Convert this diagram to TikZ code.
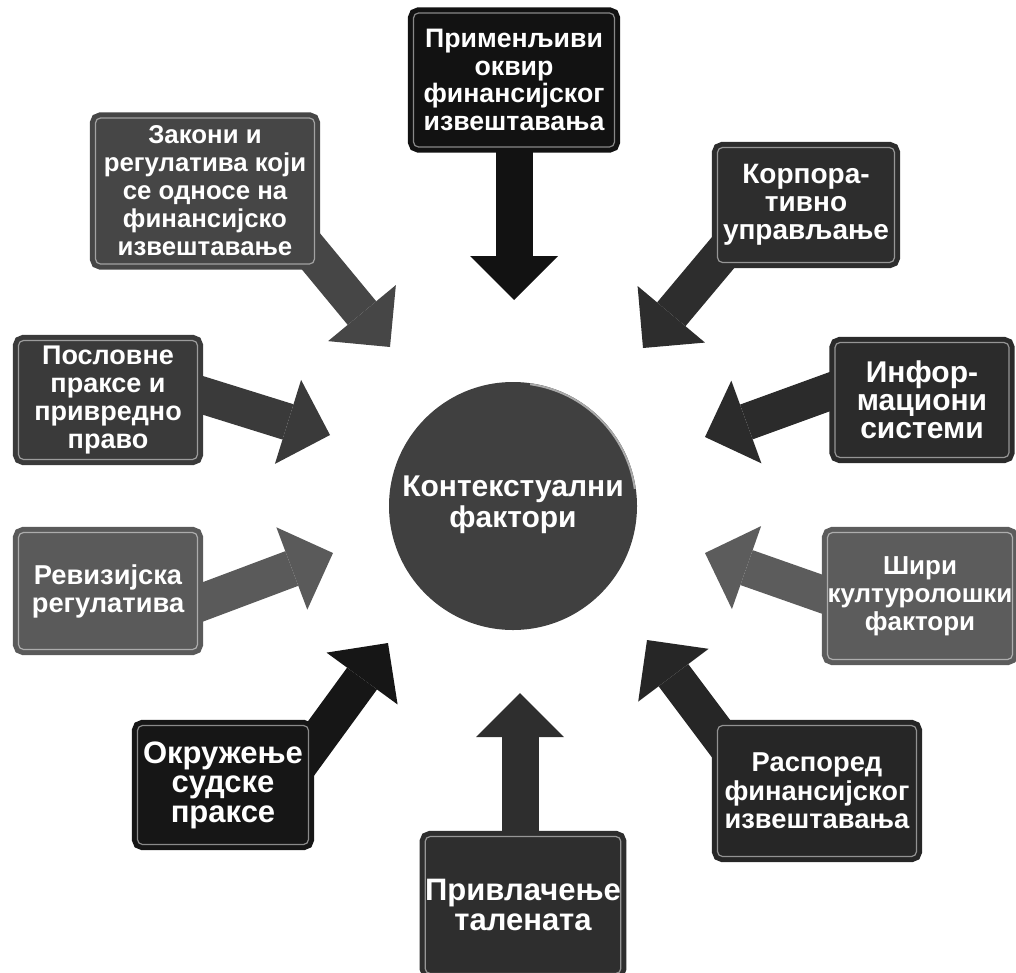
\documentclass[tikz,border=0pt]{standalone}
\usepackage{fontspec}
\setmainfont{Liberation Sans}
\usepackage{tikz}
\usetikzlibrary{arrows.meta,positioning,calc,backgrounds}
\definecolor{darkest}{HTML}{121212}
\definecolor{lawgray}{HTML}{464646}
\definecolor{corpgray}{HTML}{2D2D2D}
\definecolor{bizgray}{HTML}{3A3A3A}
\definecolor{infogray}{HTML}{2B2B2B}
\definecolor{audgray}{HTML}{5A5A5A}
\definecolor{cultgray}{HTML}{5C5C5C}
\definecolor{schedgray}{HTML}{262626}
\definecolor{courtgray}{HTML}{161616}
\definecolor{talgray}{HTML}{2E2E2E}
\definecolor{hubgray}{HTML}{404040}

\begin{document}
\begin{tikzpicture}[x=1pt,y=-1pt,
    factor/.style={fill=#1,draw=#1,double=#1!50!white,double distance=1.2pt,
      line width=5pt,rounded corners=5pt,inner sep=0pt,align=center,text=white},
    fs/.style 2 args={font=\fontsize{#1}{#2}\selectfont\bfseries},
    hub/.style={circle,fill=hubgray,inner sep=0pt,minimum size=248pt,align=center,
      text=white,fs={30}{30}},
    push/.style={draw=#1,line width=37pt,
      -{Triangle[width=88pt,length=44pt,line width=0pt]}}
  ]
    \useasboundingbox (0,0) rectangle (1016,972);
    \node[hub] (ctx) at (513,506)
      {\raisebox{7pt}{\begin{tabular}{@{}c@{}}Контекстуални\\фактори\end{tabular}}};
    \draw[white!55!hubgray,line width=2pt] ($(ctx.center)+(8:123pt)$) arc[start angle=8,end angle=82,radius=123pt];
    \node[factor=darkest,fs={26.7}{27.7},minimum width=201pt,minimum height=134pt] (frame) at (514,80)
      {Применљиви\\оквир\\финансијског\\извештавања};
    \node[factor=lawgray,fs={25.8}{28},minimum width=219pt,minimum height=146pt] (laws) at (205,191)
      {Закони и\\регулатива који\\се односе на\\финансијско\\извештавање};
    \node[factor=corpgray,fs={28}{28},minimum width=177pt,minimum height=115pt] (corp) at (806,205)
      {Корпора-\\тивно\\управљање};
    \node[factor=bizgray,fs={27}{28},minimum width=179pt,minimum height=119pt] (biz) at (108,400)
      {Пословне\\праксе и\\привредно\\право};
    \node[factor=infogray,fs={30}{28},minimum width=174pt,minimum height=115pt] (info) at (922,400)
      {Инфор-\\мациони\\системи};
    \node[factor=audgray,fs={27.3}{28},minimum width=179pt,minimum height=117pt] (audit) at (108,591)
      {Ревизијска\\регулатива};
    \node[factor=cultgray,fs={26}{28},minimum width=180pt,minimum height=127pt] (cult) at (920,596)
      {Шири\\културолошки\\фактори};
    \node[factor=schedgray,fs={27.3}{28.5},minimum width=199pt,minimum height=131pt] (sched) at (817,791)
      {Распоред\\финансијског\\извештавања};
    \node[factor=courtgray,fs={31}{29.5},minimum width=171pt,minimum height=119pt] (court) at (223,785)
      {Окружење\\судске\\праксе};
    \node[factor=talgray,fs={31}{30},minimum width=191pt,minimum height=137pt] (talent) at (523,905)
      {Привлачење\\талената};
    \coordinate (tFrame) at (514,300);
    \coordinate (tLaws) at (390,347);
    \coordinate (tCorp) at (643,348);
    \coordinate (tBiz) at (330,435);
    \coordinate (tInfo) at (705,437);
    \coordinate (tAudit) at (333,553);
    \coordinate (tCult) at (705,553);
    \coordinate (tSched) at (647,640);
    \coordinate (tCourt) at (388,643);
    \coordinate (tTalent) at (520,693);
    \begin{scope}[on background layer]
      \draw[push=darkest] (frame.center) -- (tFrame);
      \draw[push=lawgray] ([xshift=80pt,yshift=-29pt]laws.center) -- (tLaws);
      \draw[push=corpgray] ([xshift=-64pt,yshift=-25pt]corp.center) -- (tCorp);
      \draw[push=bizgray] ([xshift=52pt,yshift=18pt]biz.center) -- (tBiz);
      \draw[push=infogray] ([xshift=-52pt,yshift=23pt]info.center) -- (tInfo);
      \draw[push=audgray] ([xshift=52pt,yshift=-27pt]audit.center) -- (tAudit);
      \draw[push=cultgray] ([xshift=-50pt,yshift=-15pt]cult.center) -- (tCult);
      \draw[push=schedgray] ([xshift=-80pt,yshift=31pt]sched.center) -- (tSched);
      \draw[push=courtgray] ([xshift=65pt,yshift=5pt]court.center) -- (tCourt);
      \draw[push=talgray] ([xshift=-3pt]talent.center) -- (tTalent);
    \end{scope}
  \end{tikzpicture}
\end{document}
